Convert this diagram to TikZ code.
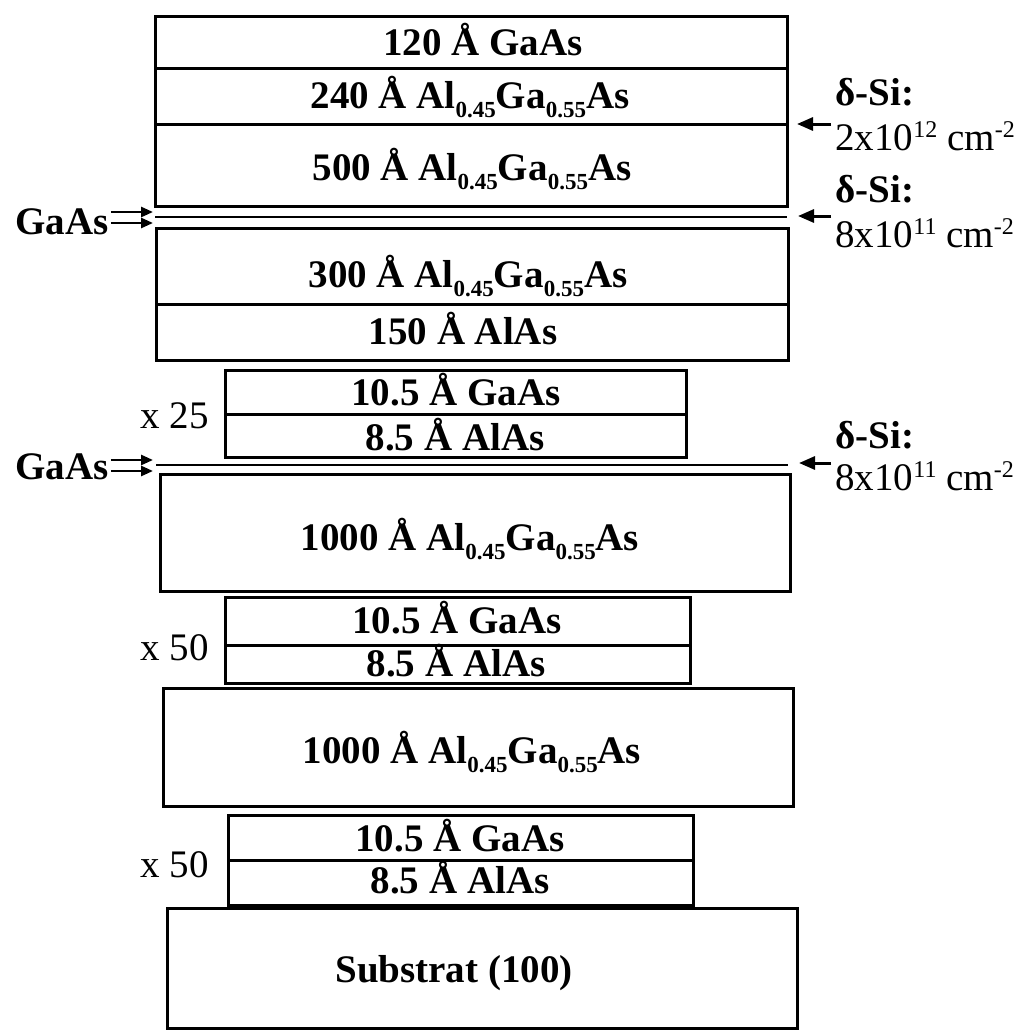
\documentclass[tikz,border=0pt]{standalone}
\usepackage{fontspec}
\setmainfont{Liberation Serif}
\usetikzlibrary{arrows.meta}
\newcommand{\subx}[1]{\raisebox{-4.5pt}{\fontsize{11.5}{12}\selectfont #1}}
\newcommand{\supx}[1]{\raisebox{6.5pt}{\fontsize{12}{13}\selectfont #1}}
\begin{document}
\begin{tikzpicture}[x=0.5pt,y=-0.5pt,
  box/.style={line width=1.5pt},
  sep/.style={line width=1.5pt},
  thinlayer/.style={line width=1.2pt},
  lbl/.style={font=\fontsize{19.5}{22}\selectfont\bfseries, anchor=base, inner sep=0pt},
  side/.style={font=\fontsize{19.5}{22}\selectfont\bfseries, anchor=base west, inner sep=0pt},
  note/.style={font=\fontsize{19.5}{22}\selectfont, anchor=base west, inner sep=0pt},
  rep/.style={font=\fontsize{19.5}{22}\selectfont, anchor=base west, inner sep=0pt},
  arr/.style={line width=1.3pt, -{Triangle[length=6pt,width=5pt]}},
  arrR/.style={line width=1.5pt, -{Triangle[length=8pt,width=6.5pt]}}]
\useasboundingbox (0,0) rectangle (1020,1033);
\newcommand{\AGA}{Al\subx{0.45}Ga\subx{0.55}As}

% ---- top stack
\draw[box] (155,16) rectangle (787,206);
\draw[sep] (155,68) -- (787,68);
\draw[sep] (155,124) -- (787,124);
\node[lbl] (t1) at (483,55) {120 Å GaAs};
\node[lbl] (t2) at (470,108) {240 Å \AGA};
\node[lbl] (t3) at (472,180) {500 Å \AGA};

% thin GaAs layer 1
\coordinate (q1l) at (155,217);
\coordinate (q1r) at (787,217);
\draw[thinlayer] (q1l) -- (q1r);

% ---- second stack
\draw[box] (156,228) rectangle (788,360);
\draw[sep] (156,304) -- (788,304);
\node[lbl] (t4) at (468,287) {300 Å \AGA};
\node[lbl] (t5) at (463,344) {150 Å AlAs};

% ---- x25 superlattice
\draw[box] (225,370) rectangle (686,457);
\draw[sep] (225,414) -- (686,414);
\node[lbl] (s1a) at (456,405) {10.5 Å GaAs};
\node[lbl] (s1b) at (455,450) {8.5 Å AlAs};
\node[rep] (r1) at (140,428) {x 25};

% thin GaAs layer 2
\coordinate (q2l) at (156,465);
\coordinate (q2r) at (788,465);
\draw[thinlayer] (q2l) -- (q2r);

% ---- 1000 A barrier
\draw[box] (160,474) rectangle (790,591);
\node[lbl] (t6) at (470,550) {1000 Å \AGA};

% ---- x50 superlattice
\draw[box] (225,597) rectangle (690,683);
\draw[sep] (225,645) -- (690,645);
\node[lbl] (s2a) at (457,633) {10.5 Å GaAs};
\node[lbl] (s2b) at (456,676) {8.5 Å AlAs};
\node[rep] (r2) at (140,660) {x 50};

% ---- 1000 A barrier
\draw[box] (163,688) rectangle (793,806);
\node[lbl] (t7) at (472,763) {1000 Å \AGA};

% ---- x50 superlattice
\draw[box] (228,815) rectangle (693,905);
\draw[sep] (228,860) -- (693,860);
\node[lbl] (s3a) at (460,851) {10.5 Å GaAs};
\node[lbl] (s3b) at (460,893) {8.5 Å AlAs};
\node[rep] (r3) at (140,877) {x 50};

% ---- substrate
\draw[box] (167,908) rectangle (797,1028);
\node[lbl] (sub) at (454,982) {Substrat (100)};

% ---- left GaAs labels with double arrows
\node[side] (g1) at (15,234) {GaAs};
\coordinate (g1h1) at (153,212);
\coordinate (g1h2) at (153,223);
\draw[arr] ([xshift=1pt]g1.east |- g1h1) -- (g1h1);
\draw[arr] ([xshift=1pt]g1.east |- g1h2) -- (g1h2);

\node[side] (g2) at (15,479) {GaAs};
\coordinate (g2h1) at (153,460);
\coordinate (g2h2) at (153,471);
\draw[arr] ([xshift=1pt]g2.east |- g2h1) -- (g2h1);
\draw[arr] ([xshift=1pt]g2.east |- g2h2) -- (g2h2);

% ---- right delta-Si labels
\node[side] (d1) at (835,105) {δ-Si:};
\node[note] (n1) at (835,150) {2x10\supx{12} cm\supx{-2}};
\coordinate (a1) at (797,124);
\draw[arrR] ([xshift=-2pt]d1.west |- a1) -- (a1);

\node[side] (d2) at (835,202) {δ-Si:};
\node[note] (n2) at (835,247) {8x10\supx{11} cm\supx{-2}};
\coordinate (a2) at (798,216);
\draw[arrR] ([xshift=-2pt]d2.west |- a2) -- (a2);

\node[side] (d3) at (835,448) {δ-Si:};
\node[note] (n3) at (835,490) {8x10\supx{11} cm\supx{-2}};
\coordinate (a3) at (799,463);
\draw[arrR] ([xshift=-2pt]d3.west |- a3) -- (a3);
\end{tikzpicture}
\end{document}
